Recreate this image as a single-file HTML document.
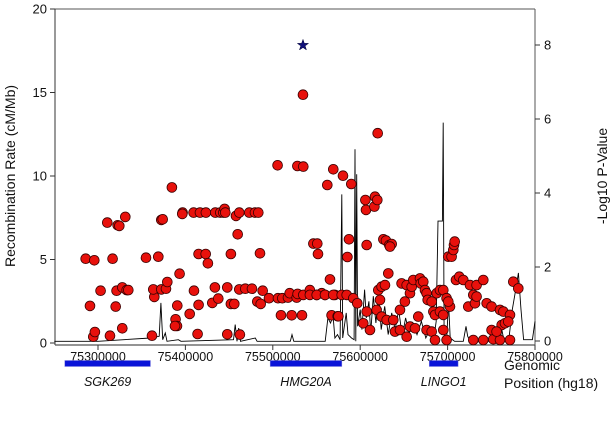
<!DOCTYPE html>
<html><head><meta charset="utf-8"><style>
html,body{margin:0;padding:0;background:#fff;width:616px;height:424px;overflow:hidden}
svg{display:block;font-family:"Liberation Sans",Arial,sans-serif}
</style></head><body>
<svg id="chart" width="616" height="424" viewBox="0 0 616 424" xmlns="http://www.w3.org/2000/svg"></svg>
<script>
const xTicks=[75300000,75400000,75500000,75600000,75700000,75800000];
const leftTicks=[0,5,10,15,20];
const rightTicks=[0,2,4,6,8];
const snpPos=[75285.9,75295.8,75290.8,75294.6,75296.5,75303,75310.6,75316.7,75320.2,75321.3,75322.5,75324.4,75327.8,75331.2,75332.8,75334.7,75327.8,75313.7,75354.9,75361.8,75364.4,75363.3,75369,75372.4,75374,75372.4,75377.8,75379.3,75384.6,75388.8,75390.4,75388.1,75390.7,75393.4,75396.8,75396.5,75404.9,75409.4,75409.8,75414,75415.1,75415.1,75416.7,75423.2,75423.5,75425.8,75430.8,75433.8,75434.2,75437.6,75439.9,75443.4,75444.9,75445.7,75447.9,75447.9,75452.1,75452.1,75456,75457.9,75459.8,75461.7,75461.7,75462.4,75468.5,75473.1,75476.2,75479.6,75482.3,75483.4,75485.3,75486.1,75488.4,75495.6,75505.5,75505.9,75509.4,75510.9,75517.4,75519.3,75521.6,75527.3,75528.1,75534.5,75534.9,75533.4,75528.4,75534.9,75542.5,75546.4,75550.9,75551.7,75550.2,75555.9,75559.7,75562.4,75565.4,75567.3,75569.2,75571.1,75574.2,
75580.3,75589.8,75620,75575,75587.2,75585.3,75542.5,75550.2,75559.7,75569.2,75578.8,75584.5,75592.1,75596.7,75606.6,75605.9,75616.2,75616.9,75619.6,75607.4,75603.6,75607.4,75611.2,75622.6,75620.7,75624.5,75628.4,75632.2,75626.5,75629.5,75633.3,75636,75634.1,75618.8,75624.5,75630.3,75637.9,75639.8,75645.5,75653.2,75657,75662.7,75645.5,75647.4,75651.2,75653.2,75657,75658.9,75660.8,75666.5,75668.4,75669.2,75672.2,75674.1,75676,75677.2,75681.8,75683.7,75685.6,75691.3,75695.1,75687.5,75691.3,75695.1,75698.9,75702.7,75700.8,75676,75681.8,75685.6,75695.1,75698.9,75700.8,75704.6,75706.5,75707.3,75708.1,75709.6,75713.4,75718,75725.6,75733.2,75740.9,75723.7,75731.3,75729.4,75733.2,75744.7,75750.4,75760,75763.8,75771.4,75761.9,75765.7,75769.5,75775.2,75780.9,75729.4,75740.9,75752.3,75760,75771.4,75750.4,75756.1];
const snpVal=[5.05,4.95,2.22,0.38,0.66,3.13,7.21,5.05,2.18,3.13,7.05,7.01,3.33,7.55,3.17,3.17,0.88,0.44,5.11,0.44,2.76,3.21,5.17,7.37,7.41,3.21,3.25,3.65,9.32,1.42,1.02,1.02,2.24,4.15,7.81,7.73,1.74,7.81,3.13,0.54,2.28,5.33,7.81,5.33,7.81,4.77,2.4,3.33,7.81,2.66,7.81,7.81,8.03,7.81,0.52,3.33,5.33,2.34,2.34,7.61,6.51,7.81,3.21,0.5,3.25,7.81,3.25,7.81,2.48,7.81,5.37,2.34,3.13,2.68,10.64,2.68,1.66,2.68,2.72,2.98,1.66,2.72,10.6,14.87,10.56,1.66,2.94,2.88,3.17,5.95,5.95,5.33,2.88,2.98,2.88,9.46,3.81,1.66,10.4,2.88,1.6,
10.02,9.52,12.56,1.6,6.21,5.15,2.88,2.88,2.88,2.88,2.88,2.88,2.68,2.38,7.97,8.56,8.17,8.76,8.56,5.87,1.18,1.88,0.78,2.58,3.17,3.37,3.47,4.17,6.21,6.13,5.87,5.93,5.77,1.98,1.58,1.38,1.38,0.68,0.78,0.38,0.98,0.88,1.98,3.57,2.48,3.47,2.98,3.37,3.77,1.58,3.87,3.57,3.67,3.17,2.98,2.58,2.48,1.88,1.68,1.88,1.68,2.98,3.17,3.17,2.68,2.18,2.48,0.78,0.68,0.18,0.78,0.18,5.17,5.17,5.57,5.87,6.07,3.77,3.97,3.77,3.47,3.47,3.77,2.18,2.38,2.88,2.78,2.38,2.18,1.98,1.88,1.68,1.08,1.18,1.28,3.67,3.27,0.18,0.18,0.22,0.18,0.18,0.78,0.68];
const topSnpPos=[75534.5];
const topSnpVal=[17.83];
const recPos=[75250,75300,75360,75370,75372,75374,75377,75379,75392,75395,75455,75457,75459,75461,75463,75480,75482,75520,75522,75524,75560,75563,75566,75569,75571,75574,75577,75579,75580,75584,75586,75590,75593,75594,75595,75596,75597,75600,75602,75605,75607,75610,75612,75615,75618,75621,75624,75628,75632,75636,75640,75644,75648,75652,75656,75660,75665,75670,75675,75680,75684,75687,75689,75694,75695,75696,75699,75701,75703,75708,75718,75721,75723,75726,75760,75762,75764,75770,75774,75779,75781,75784,75787,75797,75800];
const recRate=[0.1,0.1,0.3,0.4,2.4,0.2,0.6,0.1,0.2,0.1,0.2,1.1,0.1,0.9,0.1,0.3,0.1,0.1,0.5,0.1,0.1,1.5,1.2,1.6,0.3,0.5,0.2,8.9,0.3,1.8,0.5,0.3,0.2,11.6,0.1,10.1,1,2,0.8,3.2,1.5,2.5,0.6,2.8,1.2,3.0,0.8,2.2,0.5,1.8,0.8,2.0,0.4,1.5,0.6,1.2,0.5,1.3,0.3,0.8,0.2,1.3,7.3,7.3,13.2,0.5,0.2,2.5,0.3,0.1,0.1,1.0,0.4,0.1,0.1,0.8,0.3,0.2,2.0,3.5,4.2,2.0,0.2,0.2,1.3];
const genes=["SGK269","HMG20A","LINGO1"];
const geneStart=[75262,75497,75679];
const geneEnd=[75360,75579,75712];

const X0=55,X1=535,YB=343,YT=9;
const x=v=>98+(v-75300)*0.874;
const yL=v=>YB-v*(YB-YT)/20;
const yR=v=>341-v*37;
const svg=document.getElementById('chart');
const NS='http://www.w3.org/2000/svg';
function mk(t,a,p){const e=document.createElementNS(NS,t);for(const k in a)e.setAttribute(k,a[k]);(p||svg).appendChild(e);return e;}

let e=mk('line',{x1:X0,y1:YT,x2:X1,y2:YT,stroke:'#777','stroke-width':1.2});


e=mk('line',{x1:X0,y1:YT,x2:X0,y2:345,stroke:'#333','stroke-width':1});


e=mk('line',{x1:X1,y1:YT,x2:X1,y2:345,stroke:'#555','stroke-width':1});


e=mk('line',{x1:X0,y1:345,x2:X1,y2:345,stroke:'#555','stroke-width':1.2});



leftTicks.forEach(t=>{
  const y=yL(t);
  let l=mk('line',{x1:X0-5,y1:y,x2:X0,y2:y,stroke:'#333'});
  
  
  let tx=mk('text',{x:X0-8,y:y+4.5,'text-anchor':'end','font-size':13,fill:'#111'});
  tx.textContent=t;
  
  
});
rightTicks.forEach(t=>{
  const y=yR(t);
  let l=mk('line',{x1:X1,y1:y,x2:X1+5,y2:y,stroke:'#333'});
  
  
  let tx=mk('text',{x:X1+9,y:y+4.5,'font-size':13,fill:'#111'});
  tx.textContent=t;
  
  
});
xTicks.forEach(t=>{
  const xx=x(t/1000);
  let l=mk('line',{x1:xx,y1:345,x2:xx,y2:350,stroke:'#333'});
  
  
  let tx=mk('text',{x:xx,y:361,'text-anchor':'middle','font-size':12.5,fill:'#111'});
  tx.textContent=t;
  
  
});
e=mk('text',{x:0,y:0,'text-anchor':'middle','font-size':14,fill:'#111',transform:'translate(15,176) rotate(-90)'});
e.textContent='Recombination Rate (cM/Mb)';


e=mk('text',{x:0,y:0,'text-anchor':'middle','font-size':14,fill:'#111',transform:'translate(607,176) rotate(-90)'});
e.textContent='-Log10 P-Value';



const pts=recPos.map((p,i)=>x(p).toFixed(1)+','+yL(recRate[i]).toFixed(1)).join(' ');
e=mk('polyline',{points:pts,fill:'none',stroke:'#000','stroke-width':0.9});



snpPos.forEach((p,i)=>{
  const c=mk('circle',{cx:x(p).toFixed(1),cy:yL(snpVal[i]).toFixed(1),r:4.9,fill:'#e8110c',stroke:'#3a0000','stroke-width':0.8});
  
  
});
topSnpPos.forEach((p,i)=>{
  const cx=x(p),cy=yL(topSnpVal[i]);let d='';
  for(let k=0;k<10;k++){const r=k%2?2.3:5.8,a=-Math.PI/2+k*Math.PI/5;d+=(k?'L':'M')+(cx+r*Math.cos(a)).toFixed(1)+','+(cy+r*Math.sin(a)).toFixed(1);}
  const s=mk('path',{d:d+'Z',fill:'#10107a',stroke:'#000033','stroke-width':0.5});
  
  
});

genes.forEach((g,i)=>{
  const a=x(geneStart[i]),b=x(geneEnd[i]);
  const r=mk('rect',{x:a,y:360.5,width:b-a,height:6,fill:'#0a14d8',stroke:'#8080e0','stroke-width':0.5});
  
  
  const t=mk('text',{x:(a+b)/2,y:386,'text-anchor':'middle','font-size':12.5,'font-style':'italic',fill:'#111'});
  t.textContent=g;
  
  
});
e=mk('text',{x:504,y:370,'font-size':14,fill:'#111'});
e.textContent='Genomic';


e=mk('text',{x:504,y:388,'font-size':14,fill:'#111'});
e.textContent='Position (hg18)';


</script>
</body></html>
